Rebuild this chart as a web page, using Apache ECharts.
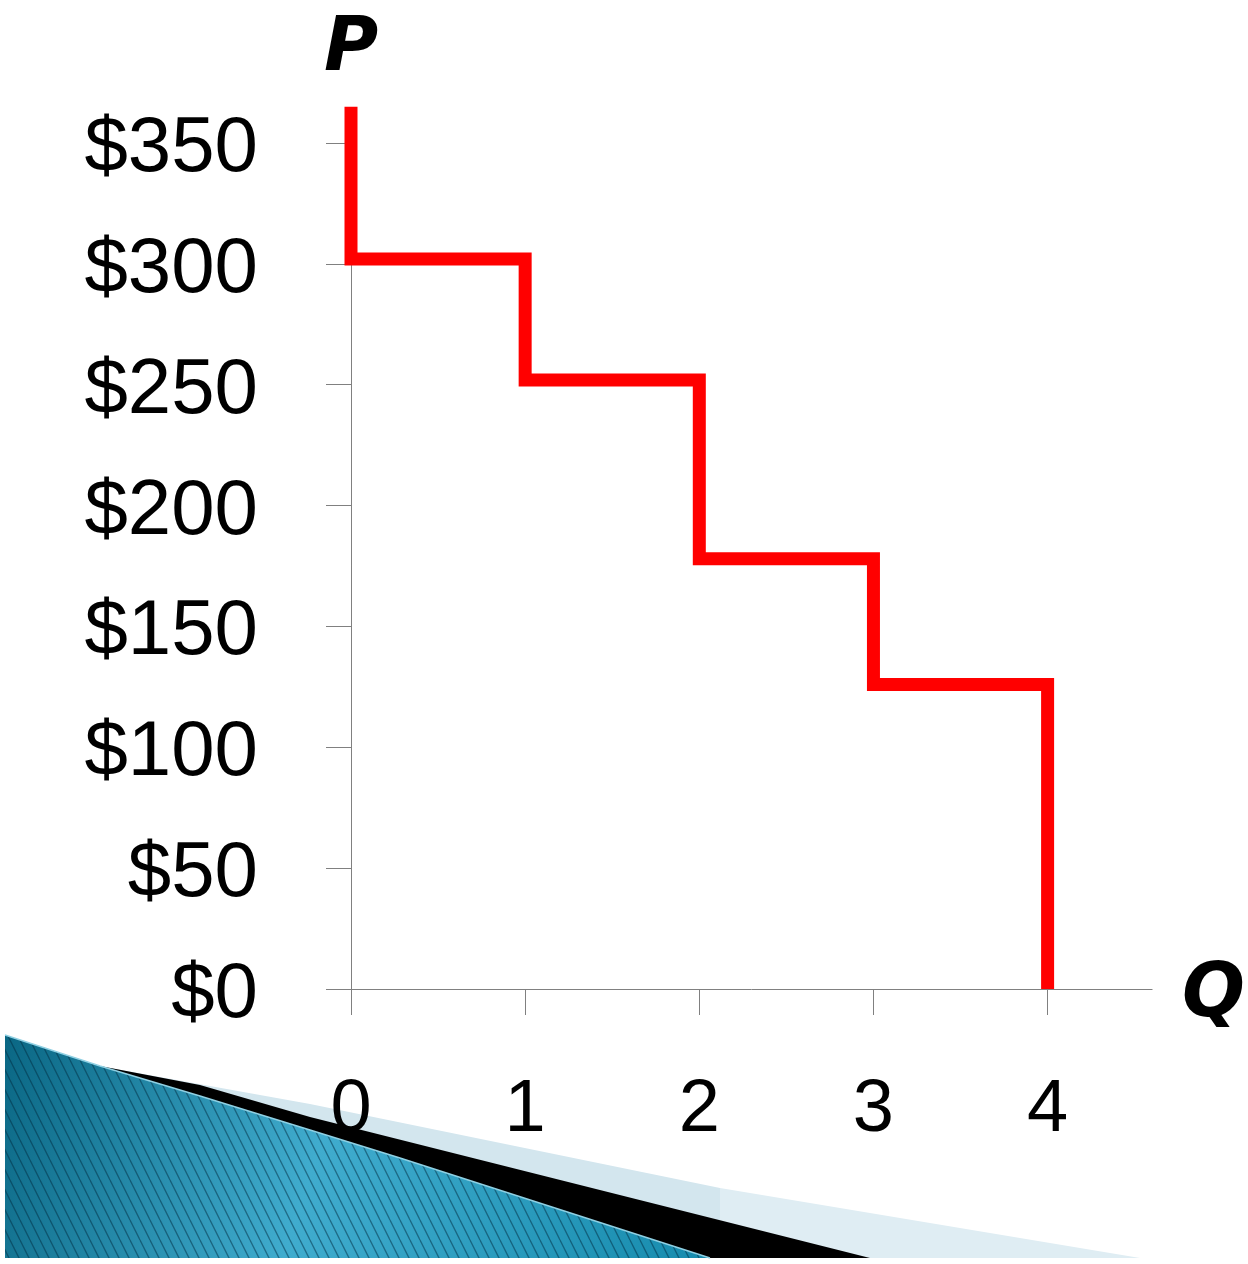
<!DOCTYPE html>
<html>
<head>
<meta charset="utf-8">
<script src="https://cdn.jsdelivr.net/npm/echarts@6/dist/echarts.min.js"></script>
<style>
  html, body { margin: 0; padding: 0; background: #fff; overflow: hidden; }
  #main { width: 1248px; height: 1264px; }
</style>
</head>
<body>
<div id="main"></div>
<script>
var chart = echarts.init(document.getElementById('main'));

// step demand schedule
var quantities = [0, 1, 2, 3, 4];
var prices = [302, 252, 178, 126];   // price level on each unit step
var topPrice = 365;                   // where the curve starts at Q = 0
var yTicks = [0, 50, 100, 150, 200, 250, 300, 350];

// build the staircase from the arrays
var steps = [[quantities[0], topPrice]];
prices.forEach(function (p, i) {
    steps.push([quantities[i], p]);
    steps.push([quantities[i + 1], p]);
});
steps.push([quantities[quantities.length - 1], 0]);

// thin diagonal stripes for the slide decoration
function stripeCanvas() {
    var c = document.createElement('canvas');
    c.width = 10; c.height = 20;
    var ctx = c.getContext('2d');
    ctx.strokeStyle = 'rgba(0,45,65,0.5)';
    ctx.lineWidth = 1.3;
    [-10, 0, 10].forEach(function (dx) {
        ctx.beginPath();
        ctx.moveTo(dx, 0);
        ctx.lineTo(dx + 10, 20);
        ctx.stroke();
    });
    return c;
}

var tealPts = [[5, 1035], [100, 1066], [200, 1096], [310, 1130], [400, 1158], [710, 1258], [5, 1258]];

var option = {
    animation: false,
    grid: { left: 351, right: 90, top: 143, bottom: 275 },
    xAxis: {
        type: 'value',
        min: 0,
        max: 4.6,
        splitLine: { show: false },
        axisLine: { lineStyle: { color: '#808080', width: 1 } },
        axisTick: { length: 26, customValues: quantities, lineStyle: { color: '#808080' } },
        axisLabel: {
            customValues: quantities,
            margin: 85,
            fontSize: 74,
            color: '#000',
            fontFamily: 'Liberation Sans'
        },
        name: 'Q',
        nameLocation: 'end',
        nameGap: 30,
        nameTextStyle: {
            fontSize: 74, fontWeight: 'bold', fontStyle: 'italic',
            fontFamily: 'DejaVu Sans', color: '#000',
            verticalAlign: 'top', lineHeight: 16
        }
    },
    yAxis: {
        type: 'value',
        min: 0,
        max: 350,
        interval: 50,
        splitLine: { show: false },
        axisLine: { show: true, lineStyle: { color: '#808080', width: 1 } },
        axisTick: { show: true, length: 25, customValues: yTicks, lineStyle: { color: '#808080' } },
        axisLabel: {
            margin: 93,
            fontSize: 78,
            color: '#000',
            fontFamily: 'Liberation Sans',
            verticalAlign: 'top',
            lineHeight: 13,
            formatter: function (v) { return '$' + v; }
        },
        name: 'P',
        nameLocation: 'end',
        nameGap: 55,
        nameTextStyle: {
            fontSize: 74, fontWeight: 'bold', fontStyle: 'italic',
            fontFamily: 'DejaVu Sans', color: '#000'
        }
    },
    series: [{
        type: 'line',
        data: steps,
        clip: false,
        showSymbol: false,
        symbol: 'none',
        z: 5,
        lineStyle: { color: '#ff0000', width: 13, join: 'miter', cap: 'butt' }
    }],
    graphic: [
        {
            type: 'polygon', z: -5,
            shape: { points: [[110, 1068], [310, 1104], [720, 1188], [720, 1258], [110, 1258]] },
            style: { fill: '#d3e6ee' }
        },
        {
            type: 'polygon', z: -5,
            shape: { points: [[720, 1188], [1140, 1258], [720, 1258]] },
            style: { fill: '#dfedf3' }
        },
        {
            type: 'polygon', z: -4,
            shape: { points: [[100, 1066], [200, 1085], [310, 1117], [870, 1258], [700, 1258], [100, 1070]] },
            style: { fill: '#000' }
        },
        {
            type: 'polygon', z: -3,
            shape: { points: tealPts },
            style: {
                fill: new echarts.graphic.LinearGradient(5, 1035, 710, 1258, [
                    { offset: 0, color: '#0a6784' },
                    { offset: 0.45, color: '#40acce' },
                    { offset: 1, color: '#168bad' }
                ], true)
            }
        },
        {
            type: 'polygon', z: -2,
            shape: { points: tealPts },
            style: { fill: { image: stripeCanvas(), repeat: 'repeat' } }
        },
        {
            type: 'polyline', z: -1,
            shape: { points: tealPts.slice(0, 6) },
            style: { stroke: '#8fd0e3', lineWidth: 1.5, fill: null }
        }
    ]
};

chart.setOption(option);
</script>
</body>
</html>
